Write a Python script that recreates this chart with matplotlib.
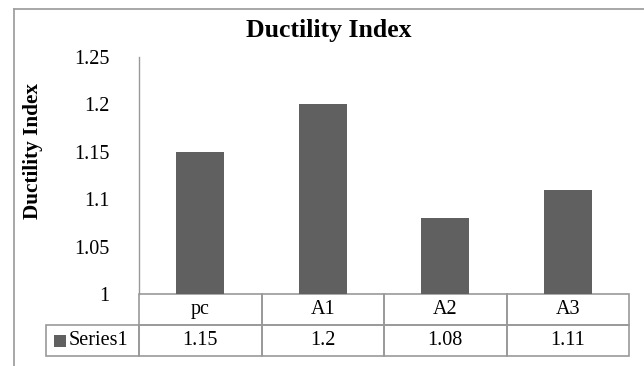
import matplotlib
matplotlib.use('Agg')
import matplotlib.pyplot as plt
from matplotlib.patches import Rectangle
from matplotlib.lines import Line2D

# Chart data
categories = ['pc', 'A1', 'A2', 'A3']
values = [1.15, 1.2, 1.08, 1.11]
series_name = 'Series1'
yticks = [1, 1.05, 1.1, 1.15, 1.2, 1.25]
ytick_labels = ['1', '1.05', '1.1', '1.15', '1.2', '1.25']

BAR_COLOR = '#606060'
GRID_COLOR = '#999999'
FS = 14.5
W, H = 644, 366

plt.rcParams['font.family'] = ['Liberation Serif', 'DejaVu Serif']

fig = plt.figure(figsize=(W / 100, H / 100), dpi=100)

# outer chart frame (top and left edges visible)
fig.add_artist(Line2D([14 / W, 14 / W], [0, 1 - 8.5 / H], transform=fig.transFigure,
                      color='#a0a0a0', lw=1.3))
fig.add_artist(Line2D([14 / W, 1], [1 - 8.5 / H, 1 - 8.5 / H], transform=fig.transFigure,
                      color='#a0a0a0', lw=1.3))

# plot area
left, right, top, bottom = 139, 629, 57, 294
ax = fig.add_axes([left / W, 1 - bottom / H, (right - left) / W, (bottom - top) / H])

x = list(range(len(categories)))
ax.bar(x, values, width=0.39, color=BAR_COLOR, zorder=2)
ax.set_xlim(-0.5, len(categories) - 0.5)
ax.set_ylim(yticks[0], yticks[-1])
ax.set_yticks(yticks)
ax.set_yticklabels(ytick_labels, fontsize=FS)
ax.tick_params(axis='y', length=0, pad=21)
ax.set_xticks([])
for s in ['top', 'right', 'bottom']:
    ax.spines[s].set_visible(False)
ax.spines['left'].set_color(GRID_COLOR)
ax.spines['left'].set_linewidth(1.0)

# data table below the plot
row_h = 31 / (bottom - top)
n = len(categories)
lbl_left = (46 - left) / (right - left)
tkw = dict(transform=ax.transAxes, clip_on=False, fill=False, edgecolor=GRID_COLOR, lw=1.2)
for i, (cat, val) in enumerate(zip(categories, values)):
    ax.add_patch(Rectangle((i / n, -row_h), 1 / n, row_h, **tkw))
    ax.add_patch(Rectangle((i / n, -2 * row_h), 1 / n, row_h, **tkw))
    ax.text((i + 0.5) / n, -row_h / 2, cat, transform=ax.transAxes,
            ha='center', va='center', fontsize=FS)
    ax.text((i + 0.5) / n, -1.5 * row_h, f'{val:g}', transform=ax.transAxes,
            ha='center', va='center', fontsize=FS)
ax.add_patch(Rectangle((lbl_left, -2 * row_h), -lbl_left, row_h, **tkw))
# legend key + series name
key = 12 / (right - left)
ax.add_patch(Rectangle((lbl_left + 8 / (right - left), -1.5 * row_h - 6 / (bottom - top)),
                       key, 12 / (bottom - top), transform=ax.transAxes, clip_on=False,
                       facecolor=BAR_COLOR, edgecolor='none'))
ax.text(lbl_left + 23 / (right - left), -1.5 * row_h, series_name, transform=ax.transAxes,
        ha='left', va='center', fontsize=FS)

fig.text(329 / W, 1 - 30 / H, 'Ductility Index', ha='center', va='center',
         fontsize=18.5, fontweight='bold')
fig.text(33 / W, 1 - 151.5 / H, 'Ductility Index', ha='center', va='center',
         rotation=90, fontsize=15.3, fontweight='bold')

fig.savefig('out.png', dpi=100)
